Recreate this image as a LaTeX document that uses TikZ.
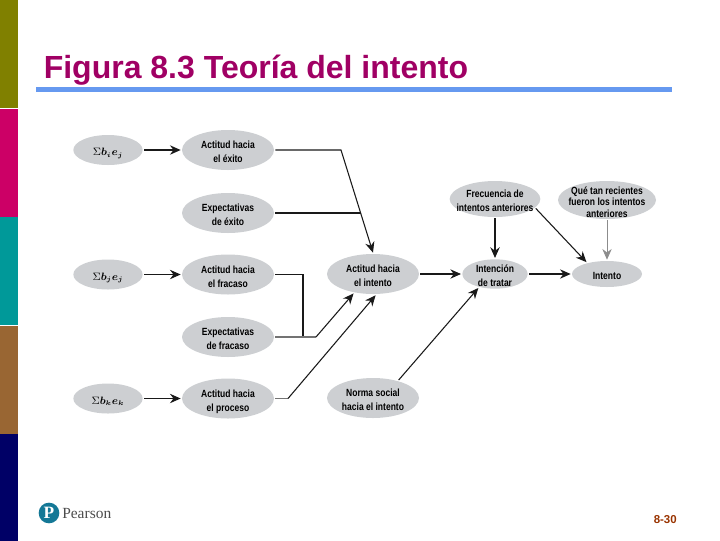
\documentclass[tikz,border=0pt]{standalone}
\usepackage{fontspec}
\usepackage{bm}
\usetikzlibrary{arrows.meta,shapes.geometric}
\setmainfont{Liberation Sans}
\newfontfamily\ellfont[FakeStretch=0.82]{Liberation Sans}
\newfontfamily\logofont{Liberation Serif}
\definecolor{titlered}{RGB}{160,0,100}
\definecolor{rulebar}{RGB}{102,153,240}
\definecolor{ellgray}{RGB}{205,207,210}
\definecolor{logoteal}{RGB}{20,120,150}
\newcommand{\elltxt}[1]{\makebox[0pt]{\smash{\lower4.2pt\hbox{\begin{tabular}{@{}c@{}}#1\end{tabular}}}}}

\begin{document}
\begin{tikzpicture}[
    x=0.75pt,
    y=-0.75pt,
    >={Stealth[length=8pt,width=7pt]},
    ell/.style={
        ellipse,
        fill=ellgray,
        inner sep=0pt,
        outer sep=1pt,
        minimum width=69pt,
        minimum height=30pt,
        font=\ellfont\fontsize{7.8}{10.5}\selectfont\bfseries
    },
    sumell/.style={ell, minimum width=52pt, minimum height=22.5pt},
    arr/.style={->, line width=0.8pt, black!90},
    thickarr/.style={->, line width=1.2pt, black!90},
    wire/.style={line width=0.8pt, black!90},
    stub/.style={line width=1.2pt, black!55},
    bar/.style={draw=none, inner sep=0pt, minimum width=13.5pt, minimum height=81pt}
]
\useasboundingbox (0,0) rectangle (720,540);

% side bars
\node[bar, fill={rgb,255:red,128;green,128;blue,0}, anchor=north west] (barA) at (0,0) {};
\node[bar, fill={rgb,255:red,204;green,0;blue,102}, below=0pt] (barB) at (barA.south) {};
\node[bar, fill={rgb,255:red,0;green,153;blue,153}, below=0pt] (barC) at (barB.south) {};
\node[bar, fill={rgb,255:red,153;green,102;blue,51}, below=0pt] (barD) at (barC.south) {};
\node[bar, fill={rgb,255:red,0;green,0;blue,102}, below=0pt] (barE) at (barD.south) {};

% title
\node[anchor=base west, inner sep=0pt, text=titlered, font=\bfseries\fontsize{24}{26}\selectfont] (title) at (43.5,78) {Figura 8.3 Teoría del intento};
\node[fill=rulebar, inner sep=0pt, minimum width=477pt, minimum height=4.2pt, anchor=west] (titlerule) at (36,89.5) {};

% first column
\node[sumell] (sumA) at (108,150) {\elltxt{$\Sigma\bm{b_ie_j}$}};
\node[sumell] (sumB) at (108,274.5) {\elltxt{$\Sigma\bm{b_je_j}$}};
\node[sumell] (sumC) at (108,398.5) {\elltxt{$\Sigma\bm{b_ke_k}$}};

% second column
\node[ell] (exito) at (228,150) {\elltxt{Actitud hacia\\el éxito}};
\node[ell] (expexito) at (228,213) {\elltxt{Expectativas\\de éxito}};
\node[ell] (fracaso) at (228,274.5) {\elltxt{Actitud hacia\\el fracaso}};
\node[ell] (expfracaso) at (228,337) {\elltxt{Expectativas\\de fracaso}};
\node[ell] (proceso) at (228,398.5) {\elltxt{Actitud hacia\\el proceso}};

% middle and right
\node[ell] (actitud) at (373,274) {\elltxt{Actitud hacia\\el intento}};
\node[ell] (norma) at (373,398) {\elltxt{Norma social\\hacia el intento}};
\node[ell, minimum width=49pt, minimum height=22pt] (intencion) at (495,274) {\elltxt{Intención\\de tratar}};
\node[ell, minimum width=52.5pt, minimum height=19.5pt] (intento) at (607,274) {\elltxt{Intento}};
\node[ell, minimum width=68pt, minimum height=27pt] (frecuencia) at (495,199) {\elltxt{Frecuencia de\\intentos anteriores}};
\node[ell, minimum width=73.5pt, minimum height=28.5pt] (recientes) at (607,200) {\elltxt{Qué tan recientes\\[-2pt]fueron los intentos\\[-2pt]anteriores}};

% bends
\coordinate (bendA) at (341,150);
\coordinate (joinA) at (360.6,213);
\coordinate (cornerB) at (303,274.5);
\coordinate (joinB) at (303,337);
\coordinate (bendB) at (316,337);
\coordinate (bendC) at (288,398.5);

\draw[thickarr] (sumA) -- (exito);
\draw[thickarr] (sumB) -- (fracaso);
\draw[thickarr] (sumC) -- (proceso);

\draw[arr] (exito.east) -- (bendA) -- (actitud.north);
\draw[wire] (expexito.east) -- (joinA);
\draw[wire] (fracaso.east) -- (cornerB) -- (joinB);
\draw[stub] (expfracaso.east) -- (bendB);
\draw[arr] (bendB) -- (actitud.225);
\draw[stub] (proceso.east) -- (bendC);
\draw[arr] (bendC) -- (actitud.277);

\draw[arr] (actitud) -- (intencion);
\draw[arr] (intencion) -- (intento);
\draw[arr] (norma.35) -- (intencion.220);
\draw[thickarr] (frecuencia) -- (intencion);
\draw[arr] (frecuencia.-13) -- (intento.150);
\draw[->, line width=0.6pt, black!45] (recientes) -- (intento);

% footer
\node[circle, fill=logoteal, text=white, inner sep=0pt, minimum size=15.5pt, font=\logofont\bfseries\fontsize{13}{13}\selectfont] (logomark) at (49,513) {P};
\node[anchor=west, inner sep=0pt, text=black!70, font=\logofont\fontsize{11.6}{12}\selectfont] (logotext) at (62,513) {Pearson};
\node[anchor=east, inner sep=0pt, text={rgb,255:red,153;green,51;blue,0}, font=\bfseries\fontsize{8.6}{10}\selectfont] (pagenum) at (677,520) {8-30};

\end{tikzpicture}
\end{document}
